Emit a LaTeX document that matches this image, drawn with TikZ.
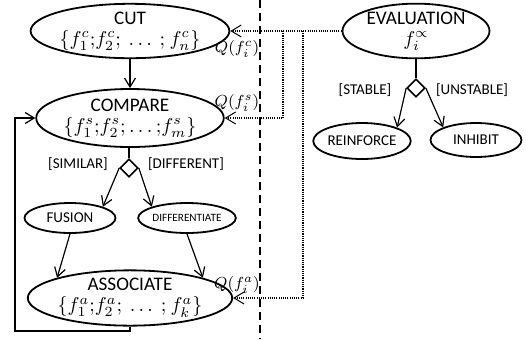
\documentclass[tikz,border=0pt]{standalone}
\usepackage{fontspec}
\setmainfont{Carlito}
\usetikzlibrary{shapes.geometric,arrows.meta}
\begin{document}
\begin{tikzpicture}[x=0.5pt,y=-0.5pt,
  ell/.style={ellipse,draw,line width=0.9pt,inner sep=0pt,align=center,
    font=\fontsize{9.6}{11.5}\selectfont},
  sml/.style={ellipse,draw,line width=0.9pt,inner sep=0pt,
    minimum width=45.5pt,minimum height=15pt,font=\fontsize{7.5}{9}\selectfont},
  dia/.style={diamond,draw,line width=0.8pt,inner sep=0pt,minimum width=9pt,minimum height=9pt},
  arr/.style={line width=0.6pt,-{Straight Barb[length=4.5pt,width=5.5pt,line width=0.6pt]}},
  dotarr/.style={line width=0.6pt,dash pattern=on 0.55pt off 0.55pt,
    -{Straight Barb[length=5pt,width=6pt,line width=0.5pt]}},
  sep/.style={line width=0.8pt,dash pattern=on 4pt off 2.5pt},
  lab/.style={font=\fontsize{7.5}{9}\selectfont,inner sep=0pt},
  qlab/.style={font=\fontsize{8}{9}\selectfont,inner sep=0pt}
]
\useasboundingbox (0,0) rectangle (526,339);

% nodes
\node[ell,minimum width=73pt,minimum height=27pt] (cut) at (130,31)
  {CUT\\[-1pt]$\{f_1^c{;}f_2^c{;}\ \ldots\ {;}\ f_n^c\}$};
\node[ell,minimum width=75pt,minimum height=29pt] (compare) at (130,118)
  {COMPARE\\[-1pt]$\{f_1^s{;}f_2^s{;}\ldots{;}f_m^s\}$};
\node[dia] (d1) at (129,168) {};
\node[sml] (fusion) at (70,218) {FUSION};
\node[sml,font=\fontsize{5.6}{7}\selectfont] (diff) at (187,218) {DIFFERENTIATE};
\node[ell,minimum width=73pt,minimum height=27pt] (assoc) at (130,298)
  {ASSOCIATE\\[-1pt]$\{f_1^a{;}f_2^a{;}\ \ldots\ {;}\ f_k^a\}$};

\node[ell,minimum width=73.5pt,minimum height=27pt] (eval) at (416,31)
  {EVALUATION\\[-1pt]$f_i^{\propto}$};
\node[dia] (d2) at (416,88) {};
\node[sml,minimum height=18pt] (reinf) at (362,141) {REINFORCE};
\node[sml,minimum height=17pt] (inhib) at (476,140) {INHIBIT};

% labels
\node[lab] (lsim) at (78,164) {[SIMILAR]};
\node[lab] (ldif) at (186,164) {[DIFFERENT]};
\node[lab] (lsta) at (365,90) {[STABLE]};
\node[lab] (luns) at (472,90) {[UNSTABLE]};
\node[qlab] (qc) at (237,49) {$Q(f_i^c)$};
\node[qlab] (qs) at (237,103) {$Q(f_i^s)$};
\node[qlab] (qa) at (237,285) {$Q(f_i^a)$};

% separator
\coordinate (stop) at (260,0);
\coordinate (sbot) at (260,339);
\draw[sep] (stop) -- (sbot);

% left flow
\draw[arr] (cut.south) -- (compare.north);
\draw[line width=0.6pt] (compare.south -| d1) -- (d1.north);
\draw[arr] (d1.west) -- (fusion.north east);
\draw[arr] (d1.east) -- (diff.north west);
\draw[arr] (fusion.south) -- (assoc.north west);
\draw[arr] (diff.south) -- (assoc.north east);
\coordinate (lb) at (15,331);
\draw[arr] (assoc.south) |- (lb) |- (compare.west);

% right flow
\draw[line width=0.6pt] (eval.south) -- (d2.north);
\draw[arr] (d2.west) -- (reinf.north east);
\draw[arr] (d2.east) -- (inhib.north west);

% dotted feedback
\coordinate (c1) at (283,31);
\coordinate (c2) at (303,31);
\draw[dotarr] (eval.west) -- (cut.east);
\draw[dotarr] (c1) |- (compare.east);
\draw[dotarr] (c2) |- (assoc.east);
\end{tikzpicture}
\end{document}
